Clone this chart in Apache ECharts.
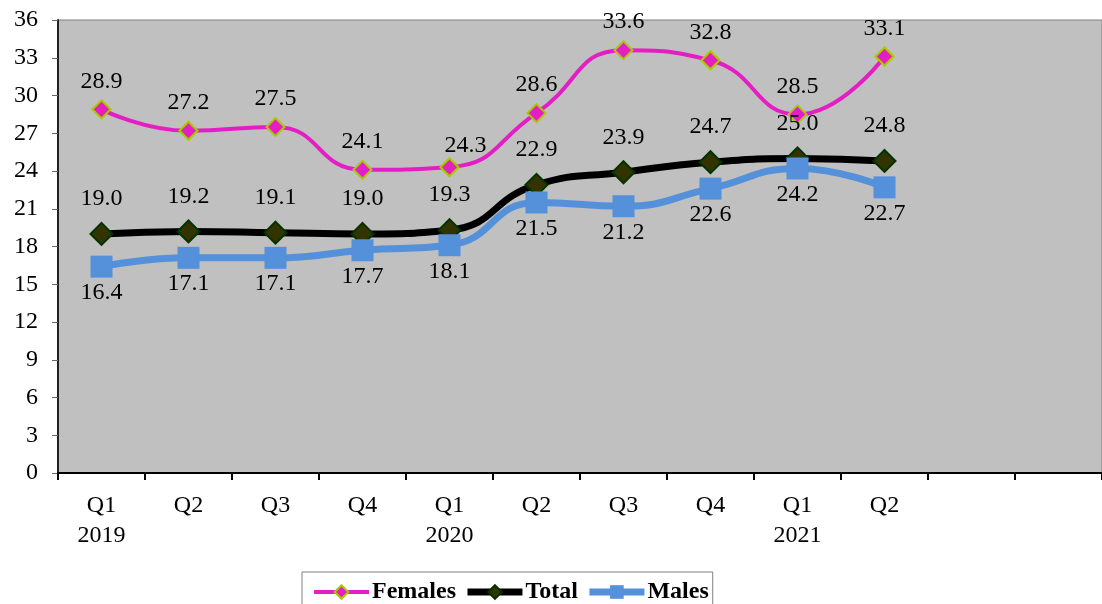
<!DOCTYPE html>
<html>
<head>
<meta charset="utf-8">
<script src="https://cdn.jsdelivr.net/npm/echarts@6/dist/echarts.min.js"></script>
<style>
html,body{margin:0;padding:0;background:#fff;}
#chart{width:1102px;height:604px;}
</style>
</head>
<body>
<div id="chart"></div>
<script>
var categories = ['Q1\n2019','Q2','Q3','Q4','Q1\n2020','Q2','Q3','Q4','Q1\n2021','Q2','',''];
var females = [28.9, 27.2, 27.5, 24.1, 24.3, 28.6, 33.6, 32.8, 28.5, 33.1];
var total = [19.0, 19.2, 19.1, 19.0, 19.3, 22.9, 23.9, 24.7, 25.0, 24.8];
var males = [16.4, 17.1, 17.1, 17.7, 18.1, 21.5, 21.2, 22.6, 24.2, 22.7];

var font = 'Liberation Serif';
var chart = echarts.init(document.getElementById('chart'));

function lbl(pos, dist){
    return {
        show: true,
        position: pos,
        distance: dist,
        color: '#000',
        fontFamily: font,
        fontSize: 24,
        formatter: function(p){ return p.value.toFixed(1); }
    };
}

// 24.3 label sits a bit to the right in the original
var femalesData = females.map(function(v, i){
    if (i === 4) return { value: v, label: { offset: [16, 6] } };
    return v;
});

var option = {
    animation: false,
    grid: {
        left: 58,
        top: 20,
        right: -6,
        bottom: 131,
        show: true,
        backgroundColor: '#c0c0c0',
        borderColor: '#808080',
        borderWidth: 1
    },
    legend: {
        left: 302,
        top: 572,
        padding: [8, 4, 20, 10],
        borderColor: '#808080',
        borderWidth: 1,
        itemWidth: 55,
        itemHeight: 17,
        itemGap: 8,
        textStyle: { fontFamily: font, fontSize: 24, fontWeight: 'bold', color: '#000', padding: [0, 0, 0, -2] },
        data: [
            { name: 'Females', lineStyle: { width: 4 } },
            { name: 'Total', lineStyle: { width: 7 } },
            { name: 'Males', lineStyle: { width: 7 } }
        ]
    },
    xAxis: {
        type: 'category',
        data: categories,
        boundaryGap: true,
        axisLine: { lineStyle: { color: '#000', width: 2 } },
        axisTick: { show: true, length: 7, lineStyle: { color: '#000', width: 2 } },
        axisLabel: { fontFamily: font, fontSize: 24, color: '#000', lineHeight: 30, margin: 18, interval: 0 },
        splitLine: { show: false }
    },
    yAxis: {
        type: 'value',
        min: 0,
        max: 36,
        interval: 3,
        axisLine: { show: true, lineStyle: { color: '#222', width: 2 } },
        axisTick: { show: true, length: 6, lineStyle: { color: '#666' } },
        axisLabel: { fontFamily: font, fontSize: 24, color: '#000', margin: 20 },
        splitLine: { show: false }
    },
    series: [
        {
            name: 'Females',
            type: 'line',
            data: femalesData,
            smooth: 0.5,
            symbol: 'diamond',
            symbolSize: 18,
            lineStyle: { color: '#e41ec4', width: 4 },
            itemStyle: { color: '#e41ec4', borderColor: '#a8c800', borderWidth: 2 },
            label: lbl('top', 6)
        },
        {
            name: 'Total',
            type: 'line',
            data: total,
            smooth: 0.5,
            symbol: 'diamond',
            symbolSize: 22,
            lineStyle: { color: '#000', width: 7 },
            itemStyle: { color: '#333300', borderColor: '#003300', borderWidth: 2 },
            label: lbl('top', 11)
        },
        {
            name: 'Males',
            type: 'line',
            data: males,
            smooth: 0.5,
            symbol: 'rect',
            symbolSize: 22,
            lineStyle: { color: '#5590da', width: 7 },
            itemStyle: { color: '#5590da' },
            label: lbl('bottom', 3)
        }
    ]
};
chart.setOption(option);
</script>
</body>
</html>
